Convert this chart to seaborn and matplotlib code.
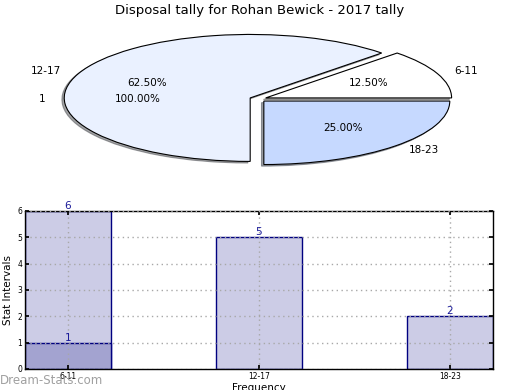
import matplotlib
matplotlib.use("Agg")
import matplotlib.pyplot as plt
import seaborn as sns
import pandas as pd

# data
intervals = ["6-11", "12-17", "18-23"]
pie_shares = [1, 5, 2]            # 12.5% / 62.5% / 25%
pie_colors = ["#ffffff", "#eaf1ff", "#c6d9ff"]
overlay_labels = ["1"]
overlay_shares = [1]

bar_values = [6, 5, 2]
overlay_bar_cats = ["6-11"]
overlay_bar_values = [1]

sns.set_theme(style="white")
plt.rcParams["font.family"] = ["DejaVu Sans"]
plt.rcParams.update({"text.color": "black", "axes.labelcolor": "black",
                     "xtick.color": "black", "ytick.color": "black"})

fig = plt.figure(figsize=(5.2, 3.9), dpi=100)
fig.text(0.5, 0.974, "Disposal tally for Rohan Bewick - 2017 tally",
         ha="center", va="center", fontsize=9.5)

# ── pie (squashed, like the original) ────────────────────────────────
ax_pie = fig.add_axes([0.049, 0.5426, 0.894, 0.407])
ax_pie.pie(pie_shares, labels=intervals, colors=pie_colors,
           explode=[0.045] * 3, startangle=0,
           shadow=dict(ox=-0.009, oy=-0.018, shade=0.7),
           autopct="%.2f%%", labeldistance=1.1, pctdistance=0.6,
           wedgeprops=dict(edgecolor="black", linewidth=0.8),
           textprops=dict(fontsize=7.5))
ax_pie.pie(overlay_shares, labels=overlay_labels, explode=[0.045],
           startangle=0, autopct="%.2f%%",
           wedgeprops=dict(fill=False, linewidth=0),
           textprops=dict(fontsize=7.5))
ax_pie.set_aspect("auto")
ax_pie.set_xlim(-1.25, 1.25)
ax_pie.set_ylim(-1.25, 1.25)
ax_pie.axis("off")

# ── bars ─────────────────────────────────────────────────────────────
ax = fig.add_axes([0.048, 0.054, 0.9, 0.405])
df = pd.DataFrame({"interval": intervals, "value": bar_values})
df2 = pd.DataFrame({"interval": overlay_bar_cats, "value": overlay_bar_values})

sns.barplot(data=df, x="interval", y="value", order=intervals, width=0.45,
            color="#cccce6", saturation=1, edgecolor="#000080",
            linewidth=1, ax=ax)
sns.barplot(data=df2, x="interval", y="value", order=intervals, width=0.45,
            color="#a3a3d0", saturation=1, edgecolor="#000080",
            linewidth=1, ax=ax)

for i, v in enumerate(bar_values):
    ax.text(i, v, str(v), ha="center", va="bottom", fontsize=7.5,
            color="#1a1a99")
for c, v in zip(overlay_bar_cats, overlay_bar_values):
    ax.text(intervals.index(c), v, str(v), ha="center", va="bottom",
            fontsize=7.5, color="#1a1a99")

ax.set_xlim(-0.225, 2.225)
ax.set_ylim(0, 6)
ax.set_yticks(range(7))
ax.grid(True, linestyle=(0, (1, 2.5)), color="#a8a8a8", linewidth=1)
ax.set_axisbelow(False)
ax.tick_params(direction="in", labelsize=5.5, length=3, top=True,
               right=True, left=True, bottom=True, pad=2)
for s in ax.spines.values():
    s.set_color("black")
    s.set_linewidth(1)
ax.set_xlabel("Frequency", fontsize=7.5, labelpad=2)
ax.set_ylabel("Stat Intervals", fontsize=7.5, labelpad=3)

fig.text(0.0, 0.025, "Dream-Stats.com", fontsize=8.5, color="#a0a0a0",
         ha="left", va="center")

fig.savefig("out.png", dpi=100)
